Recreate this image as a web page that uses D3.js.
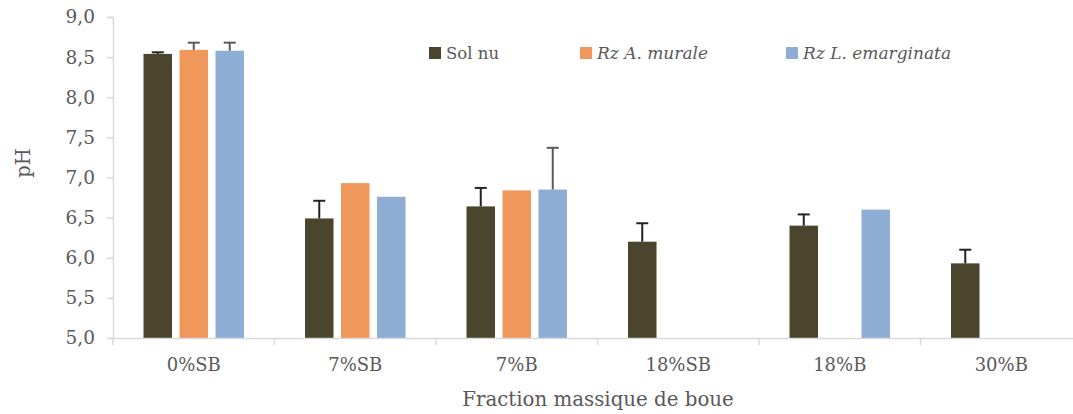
<!DOCTYPE html>
<html>
<head>
<meta charset="utf-8">
<script src="https://cdn.jsdelivr.net/npm/d3@7"></script>
<style>
  html, body { margin: 0; padding: 0; background: #ffffff; }
  svg { display: block; }
  text { font-family: "DejaVu Serif", "Liberation Serif", serif; fill: #595959; }
</style>
</head>
<body>
<svg id="chart" width="1073" height="414"></svg>
<script>
// pH of the substrate by sludge mass fraction
const categories = ["0%SB", "7%SB", "7%B", "18%SB", "18%B", "30%B"];
const seriesNames = ["Sol nu", "Rz A. murale", "Rz L. emarginata"];
const solNu      = [8.54, 6.49, 6.64, 6.20, 6.40, 5.93];
const solNuErr   = [0.02, 0.22, 0.23, 0.23, 0.14, 0.17];
const murale     = [8.59, 6.93, 6.84, null, null, null];
const muraleErr  = [0.09, 0, 0, null, null, null];
const emarginata = [8.58, 6.76, 6.85, null, 6.60, null];
const emargErr   = [0.10, 0, 0.52, null, 0, null];
const yTicks = [5.0, 5.5, 6.0, 6.5, 7.0, 7.5, 8.0, 8.5, 9.0];

const colors = ["#4a452c", "#f0985b", "#8eaed5"];
const errColors = ["#222222", "#5a5a5a", "#5a5a5a"];

const values = [solNu, murale, emarginata];
const errors = [solNuErr, muraleErr, emargErr];

const svg = d3.select("#chart");
const margin = { left: 113, right: -9, top: 17, bottom: 76 };
const W = 1073, H = 414;

const x = d3.scaleBand()
  .domain(categories)
  .range([margin.left, W - margin.right])
  .paddingInner(0).paddingOuter(0);

const y = d3.scaleLinear()
  .domain([5, 9])
  .range([H - margin.bottom, margin.top]);

const sub = d3.scaleBand()
  .domain(d3.range(seriesNames.length))
  .range([-50.25, 50.25])
  .paddingInner(0.208);

const numFmt = v => d3.format(".1f")(v).replace(".", ",");

// y axis
const yAxis = svg.append("g")
  .attr("transform", `translate(${margin.left},0)`)
  .call(d3.axisLeft(y).tickValues(yTicks).tickFormat(numFmt).tickSize(6).tickPadding(12));
yAxis.select(".domain").attr("stroke", "#d9d9d9").attr("stroke-width", 1.5);
yAxis.selectAll(".tick line").attr("stroke", "#d9d9d9").attr("stroke-width", 1.5);
yAxis.selectAll(".tick text")
  .attr("fill", "#595959")
  .style("font-family", '"DejaVu Serif", serif')
  .style("font-size", "18.5px");

// bars
categories.forEach((cat, i) => {
  const cx = x(cat) + x.bandwidth() / 2;
  values.forEach((series, s) => {
    const v = series[i];
    if (v == null) return;
    svg.append("rect")
      .attr("x", cx + sub(s))
      .attr("y", y(v))
      .attr("width", sub.bandwidth())
      .attr("height", y(5) - y(v))
      .attr("fill", colors[s]);
    const e = errors[s][i];
    if (e) {
      const bx = cx + sub(s) + sub.bandwidth() / 2;
      const g = svg.append("g")
        .attr("stroke", errColors[s]).attr("stroke-width", 2);
      g.append("line").attr("x1", bx).attr("x2", bx).attr("y1", y(v)).attr("y2", y(v + e));
      g.append("line").attr("x1", bx - 6).attr("x2", bx + 6).attr("y1", y(v + e)).attr("y2", y(v + e));
    }
  });
});

// x axis
const xAxis = svg.append("g")
  .attr("transform", `translate(0,${y(5)})`)
  .call(d3.axisBottom(x).tickSize(0).tickPadding(20));
xAxis.select(".domain").attr("stroke", "#d9d9d9").attr("stroke-width", 1.5);
xAxis.selectAll(".tick text")
  .attr("fill", "#595959")
  .style("font-family", '"DejaVu Serif", serif')
  .style("font-size", "18px");
// category separators
xAxis.selectAll(".sep")
  .data(categories)
  .join("line")
  .attr("class", "sep")
  .attr("x1", d => x(d)).attr("x2", d => x(d))
  .attr("y1", 0).attr("y2", 7)
  .attr("stroke", "#d9d9d9").attr("stroke-width", 1.5);

// axis titles
svg.append("text")
  .attr("x", 598)
  .attr("y", 406)
  .attr("text-anchor", "middle")
  .style("font-size", "19.8px")
  .text("Fraction massique de boue");

svg.append("text")
  .attr("transform", "translate(30,163) rotate(-90)")
  .attr("text-anchor", "middle")
  .style("font-size", "19.5px")
  .text("pH");

// legend
const legendX = [429, 580, 786];
const legend = svg.append("g");
seriesNames.forEach((name, s) => {
  legend.append("rect")
    .attr("x", legendX[s]).attr("y", 47)
    .attr("width", 12).attr("height", 12)
    .attr("fill", colors[s]);
  legend.append("text")
    .attr("x", legendX[s] + 17).attr("y", 59)
    .style("font-size", s === 0 ? "16.5px" : "17px")
    .style("font-style", s === 0 ? "normal" : "italic")
    .text(name);
});
</script>
</body>
</html>
